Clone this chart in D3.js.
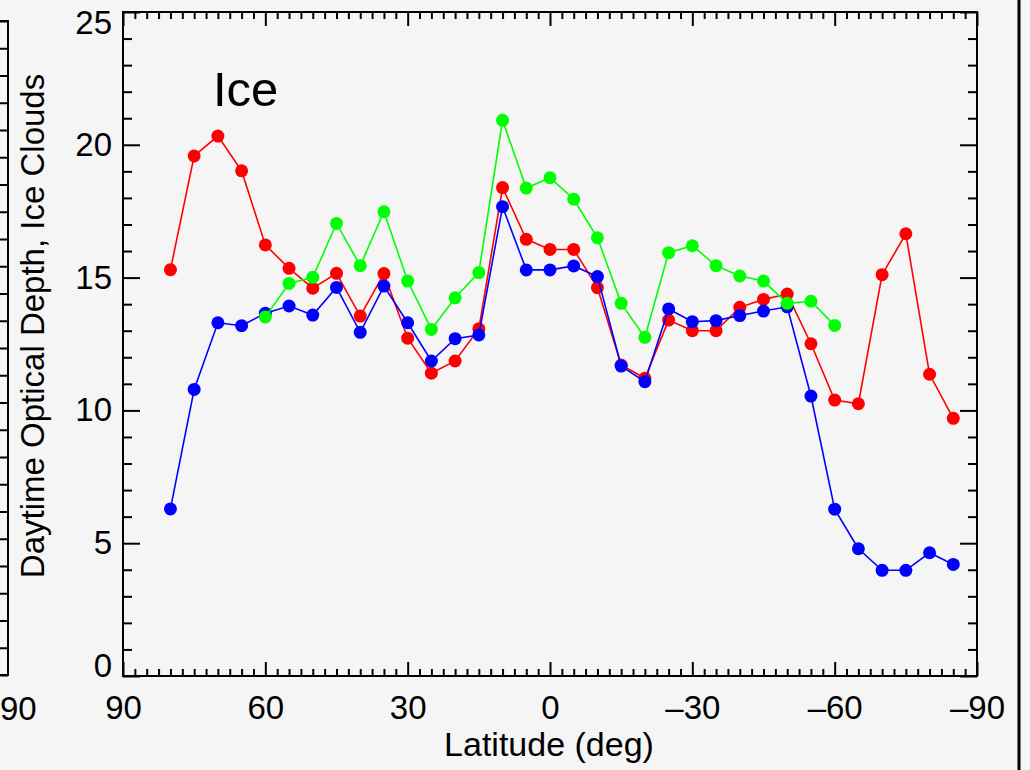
<!DOCTYPE html>
<html>
<head>
<meta charset="utf-8">
<script src="https://cdn.jsdelivr.net/npm/d3@7"></script>
<style>
  html, body { margin: 0; padding: 0; background: #f5f5f5; }
  svg { display: block; }
  text { font-family: "Liberation Sans", Arial, Helvetica, sans-serif; fill: #000; }
</style>
</head>
<body>
<div id="chart"></div>
<script>
// Latitude bins (deg), north to south
const latitudes = [80, 75, 70, 65, 60, 55, 50, 45, 40, 35, 30, 25, 20, 15, 10, 5, 0,
  -5, -10, -15, -20, -25, -30, -35, -40, -45, -50, -55, -60, -65, -70, -75, -80, -85];

const redValues = [15.30, 19.58, 20.33, 19.02, 16.23, 15.35, 14.60, 15.16, 13.55, 15.15, 12.72, 11.40,
  11.86, 13.07, 18.39, 16.44, 16.06, 16.06, 14.62, 11.71, 11.21, 13.40, 13.00, 13.00, 13.88, 14.18,
  14.38, 12.51, 10.39, 10.25, 15.11, 16.65, 11.36, 9.70];

const blueValues = [6.29, 10.79, 13.30, 13.19, 13.66, 13.93, 13.59, 14.63, 12.94, 14.68, 13.30, 11.86,
  12.70, 12.84, 17.67, 15.29, 15.29, 15.44, 15.04, 11.67, 11.08, 13.82, 13.34, 13.38, 13.57, 13.74,
  13.90, 10.54, 6.28, 4.79, 3.98, 3.98, 4.64, 4.20];

// green only covers 60N..60S
const greenValues = [null, null, null, null, 13.52, 14.78, 15.01, 17.04, 15.45, 17.48, 14.87, 13.05,
  14.24, 15.19, 20.92, 18.37, 18.76, 17.95, 16.50, 14.03, 12.75, 15.94, 16.20, 15.45, 15.06, 14.87,
  14.03, 14.11, 13.20, null, null, null, null, null];

const xTickValues = [90, 60, 30, 0, -30, -60, -90];
const xTickLabels = ['90', '60', '30', '0', '\u201330', '\u201360', '\u201390'];
const yTickValues = [0, 5, 10, 15, 20, 25];
const yTickLabels = ['0', '5', '10', '15', '20', '25'];

const width = 1030;
const height = 770;
const margin = { top: 12, right: 53, bottom: 94, left: 123 };

const svg = d3.select('#chart').append('svg')
  .attr('width', width)
  .attr('height', height);

svg.append('rect')
  .attr('width', width)
  .attr('height', height)
  .attr('fill', '#f5f5f5');

const xScale = d3.scaleLinear()
  .domain([90, -90])
  .range([margin.left, width - margin.right]);

const yScale = d3.scaleLinear()
  .domain([0, 25])
  .range([height - margin.bottom, margin.top]);

const x0 = xScale.range()[0], x1 = xScale.range()[1];
const y0 = yScale.range()[0], y1 = yScale.range()[1];

const minorX = d3.range(90, -90.1, -2.5).filter(d => !xTickValues.includes(d));
const minorY = d3.range(0, 25.1, 1).filter(d => !yTickValues.includes(d));

function styleAxis(g) {
  g.select('.domain').remove();
  g.selectAll('.tick line').attr('stroke', '#000').attr('stroke-width', 2);
  g.selectAll('.tick text')
    .style('font-family', '"Liberation Sans", Arial, Helvetica, sans-serif')
    .style('font-size', '33px')
    .attr('fill', '#000');
}

// bottom axis, major with labels
svg.append('g')
  .attr('transform', `translate(0,${y0})`)
  .call(d3.axisBottom(xScale).tickValues(xTickValues)
    .tickFormat((d, i) => xTickLabels[i])
    .tickSizeInner(-14).tickSizeOuter(0).tickPadding(20))
  .call(styleAxis);

svg.append('g')
  .attr('transform', `translate(0,${y0})`)
  .call(d3.axisBottom(xScale).tickValues(minorX).tickFormat('')
    .tickSizeInner(-7).tickSizeOuter(0))
  .call(styleAxis);

// top axis, mirrored
svg.append('g')
  .attr('transform', `translate(0,${y1})`)
  .call(d3.axisTop(xScale).tickValues(xTickValues).tickFormat('')
    .tickSizeInner(-14).tickSizeOuter(0))
  .call(styleAxis);

svg.append('g')
  .attr('transform', `translate(0,${y1})`)
  .call(d3.axisTop(xScale).tickValues(minorX).tickFormat('')
    .tickSizeInner(-7).tickSizeOuter(0))
  .call(styleAxis);

// left axis with labels
const yAxisG = svg.append('g')
  .attr('transform', `translate(${x0},0)`)
  .call(d3.axisLeft(yScale).tickValues(yTickValues)
    .tickFormat((d, i) => yTickLabels[i])
    .tickSizeInner(-17).tickSizeOuter(0).tickPadding(11))
  .call(styleAxis);

// keep end labels inside the frame
yAxisG.selectAll('.tick text')
  .attr('dy', d => d === 0 ? '0em' : d === 25 ? '0.66em' : '0.32em');

svg.append('g')
  .attr('transform', `translate(${x0},0)`)
  .call(d3.axisLeft(yScale).tickValues(minorY).tickFormat('')
    .tickSizeInner(-9).tickSizeOuter(0))
  .call(styleAxis);

// right axis, mirrored
svg.append('g')
  .attr('transform', `translate(${x1},0)`)
  .call(d3.axisRight(yScale).tickValues(yTickValues).tickFormat('')
    .tickSizeInner(-17).tickSizeOuter(0))
  .call(styleAxis);

svg.append('g')
  .attr('transform', `translate(${x1},0)`)
  .call(d3.axisRight(yScale).tickValues(minorY).tickFormat('')
    .tickSizeInner(-9).tickSizeOuter(0))
  .call(styleAxis);

// frame
svg.append('rect')
  .attr('x', x0)
  .attr('y', y1)
  .attr('width', x1 - x0)
  .attr('height', y0 - y1)
  .attr('fill', 'none')
  .attr('stroke', '#000')
  .attr('stroke-width', 2);

// neighbouring panel, left (only its right edge is in view)
const leftPanelY = d3.scaleLinear().domain([0, 24]).range([675, 21]);
svg.append('g')
  .attr('transform', 'translate(8,0)')
  .call(d3.axisRight(leftPanelY).ticks(24).tickFormat('')
    .tickSizeInner(-8).tickSizeOuter(0))
  .call(styleAxis);
svg.append('path')
  .attr('d', `M-5,${leftPanelY(24)}H8V${leftPanelY(0)}H-5`)
  .attr('fill', 'none')
  .attr('stroke', '#000')
  .attr('stroke-width', 2);
// visible part of that panel's last tick label
svg.append('text')
  .attr('x', 0)
  .attr('y', 720)
  .style('font-size', '33px')
  .text('90');

// neighbouring panel, right edge line
svg.append('line')
  .attr('x1', 1019).attr('x2', 1019)
  .attr('y1', 0).attr('y2', height)
  .attr('stroke', '#000')
  .attr('stroke-width', 3);

// series: red, blue, green (green on top)
const series = [
  { name: 'red', values: redValues, color: '#ff0000' },
  { name: 'blue', values: blueValues, color: '#0000ff' },
  { name: 'green', values: greenValues, color: '#00ff00' }
];

const line = d3.line()
  .defined(d => d.v !== null)
  .x(d => xScale(d.lat))
  .y(d => yScale(d.v));

for (const s of series) {
  const pts = latitudes.map((lat, i) => ({ lat: lat, v: s.values[i] }));
  const g = svg.append('g');
  g.append('path')
    .datum(pts)
    .attr('d', line)
    .attr('fill', 'none')
    .attr('stroke', s.color)
    .attr('stroke-width', 1.6);
  g.selectAll('circle')
    .data(pts.filter(d => d.v !== null))
    .enter()
    .append('circle')
    .attr('cx', d => xScale(d.lat))
    .attr('cy', d => yScale(d.v))
    .attr('r', 6.5)
    .attr('fill', s.color);
}

// labels
svg.append('text')
  .attr('x', 213)
  .attr('y', 106)
  .style('font-size', '49px')
  .text('Ice');

svg.append('text')
  .attr('x', 549)
  .attr('y', 756)
  .attr('text-anchor', 'middle')
  .style('font-size', '34px')
  .text('Latitude (deg)');

svg.append('text')
  .attr('transform', 'translate(44,326) rotate(-90)')
  .attr('text-anchor', 'middle')
  .style('font-size', '33px')
  .text('Daytime Optical Depth, Ice Clouds');
</script>
</body>
</html>
